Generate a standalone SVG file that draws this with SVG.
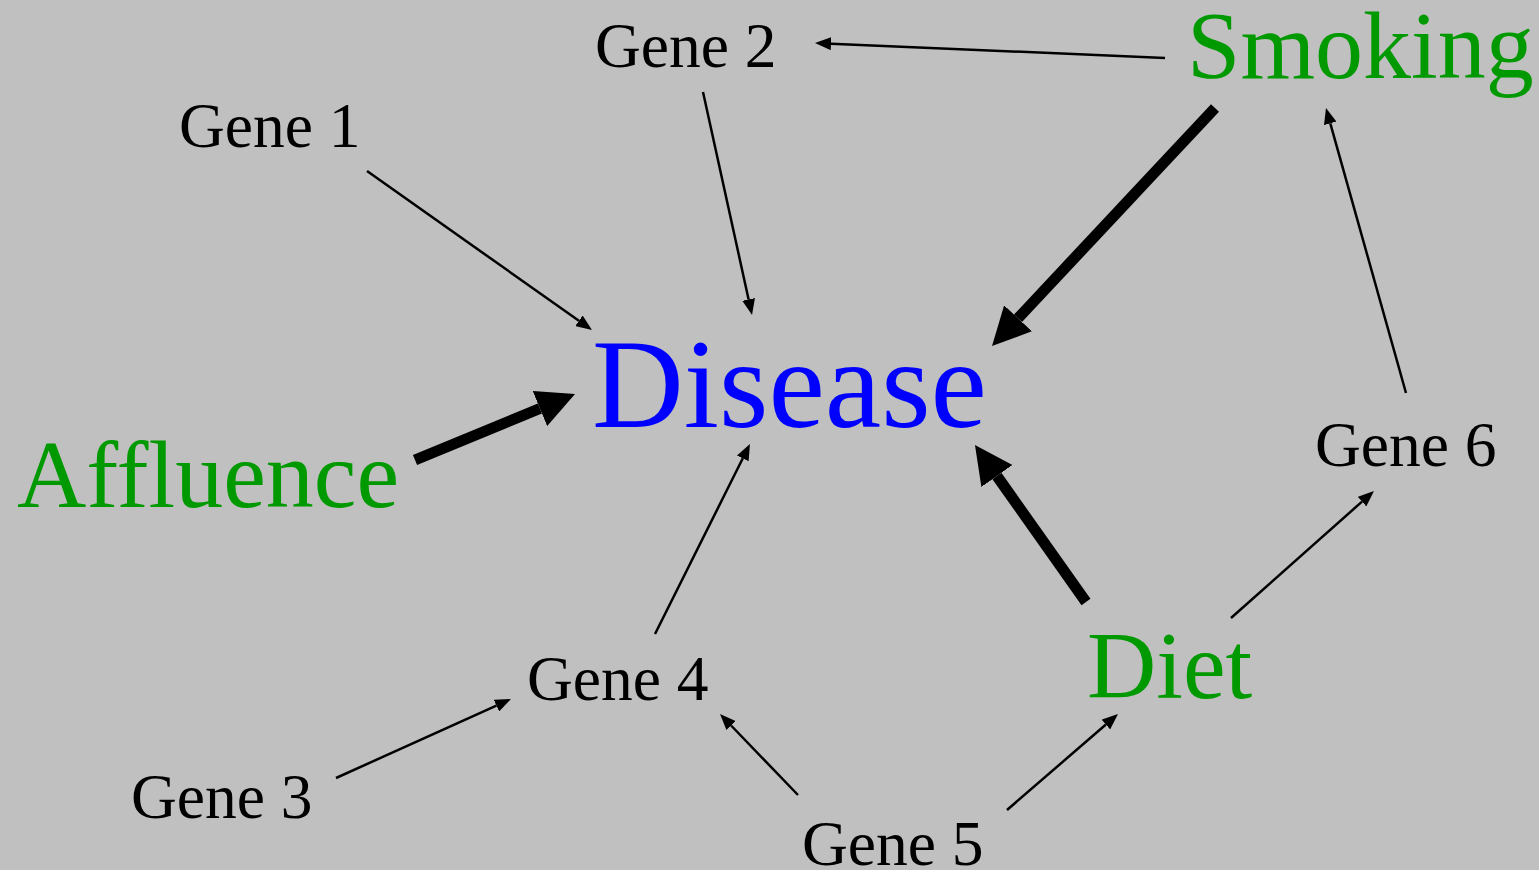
<svg xmlns="http://www.w3.org/2000/svg" width="1539" height="870" viewBox="0 0 1539 870">
<style>
text{font-family:"Liberation Serif","Times New Roman",serif}
.g{font-size:63.5px;fill:#000}
.f{font-size:96px;fill:#009900}
.d{font-size:127px;fill:#0000FF}
.thin{stroke:#000;stroke-width:2.5;fill:none;marker-end:url(#ah)}
.thick{stroke:#000;stroke-width:11;fill:none;marker-end:url(#AH)}
</style>
<defs>
<marker id="ah" markerUnits="userSpaceOnUse" viewBox="0 -6.5 16 13" markerWidth="16" markerHeight="13" refX="0" refY="0" orient="auto"><path d="M0,-6.5 L16,0 L0,6.5 z" fill="#000"/></marker>
<marker id="AH" markerUnits="userSpaceOnUse" viewBox="0 -19 38 38" markerWidth="38" markerHeight="38" refX="0" refY="0" orient="auto"><path d="M0,-19 L38,0 L0,19 z" fill="#000"/></marker>
</defs>
<rect width="1539" height="870" fill="#C0C0C0"/>
<g id="connectors">
<line class="thin" x1="1165" y1="58" x2="831" y2="43.7"/>
<line class="thin" x1="367" y1="171" x2="578.9" y2="320.8"/>
<line class="thin" x1="703" y1="92" x2="748.6" y2="299.4"/>
<line class="thick" x1="1215" y1="108" x2="1018" y2="318.3"/>
<line class="thick" x1="415" y1="460" x2="539.9" y2="408.5"/>
<line class="thick" x1="1086" y1="602" x2="996.9" y2="476"/>
<line class="thin" x1="655" y1="634" x2="742.8" y2="458.3"/>
<line class="thin" x1="1406" y1="393" x2="1330.3" y2="123.4"/>
<line class="thin" x1="1231" y1="618" x2="1362" y2="501.6"/>
<line class="thin" x1="336" y1="778" x2="496.4" y2="705.6"/>
<line class="thin" x1="798" y1="795" x2="731.1" y2="725.5"/>
<line class="thin" x1="1007" y1="810" x2="1105.9" y2="724.5"/>
</g>
<g id="disease"><text class="d" x="592" y="427">Disease</text></g>
<g id="smoking"><text class="f" x="1187" y="78">Smoking</text></g>
<g id="affluence"><text class="f" x="17" y="507">Affluence</text></g>
<g id="diet"><text class="f" x="1087" y="698">Diet</text></g>
<g id="gene1"><text class="g" x="179" y="147">Gene 1</text></g>
<g id="gene2"><text class="g" x="595" y="67">Gene 2</text></g>
<g id="gene3"><text class="g" x="131" y="818">Gene 3</text></g>
<g id="gene4"><text class="g" x="527" y="700">Gene 4</text></g>
<g id="gene5"><text class="g" x="802" y="865">Gene 5</text></g>
<g id="gene6"><text class="g" x="1315" y="466">Gene 6</text></g>
</svg>
